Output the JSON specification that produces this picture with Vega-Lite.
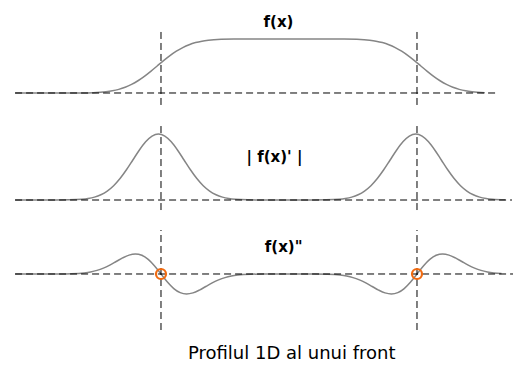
{
  "$schema": "https://vega.github.io/schema/vega-lite/v6.json",
  "padding": 0,
  "spacing": 0,
  "background": "white",
  "config": {
    "view": {"stroke": null},
    "line": {"color": "#858585", "strokeWidth": 1.5, "interpolate": "monotone"},
    "rule": {"color": "#000000", "strokeWidth": 1, "strokeDash": [7, 4]},
    "text": {"font": "DejaVu Sans", "fontWeight": "bold", "fontSize": 15, "color": "#000000", "align": "center", "baseline": "middle"}
  },
  "title": {
    "text": "Profilul 1D al unui front",
    "orient": "bottom",
    "anchor": "middle",
    "dx": 35,
    "offset": 11,
    "font": "DejaVu Sans",
    "fontSize": 18,
    "fontWeight": "normal",
    "color": "#000000"
  },
  "vconcat": [
    {
      "width": 513,
      "height": 110,
      "layer": [
        {
          "data": {"values": [
            {"x": -5.7, "v": 0}, {"x": -4.15, "v": 0}, {"x": -3.15, "v": 0.0013}, {"x": -2.65, "v": 0.0062},
            {"x": -2.15, "v": 0.0228}, {"x": -1.9, "v": 0.0401}, {"x": -1.65, "v": 0.0668}, {"x": -1.4, "v": 0.1056},
            {"x": -1.15, "v": 0.1587}, {"x": -0.9, "v": 0.2266}, {"x": -0.65, "v": 0.3085}, {"x": -0.4, "v": 0.4013},
            {"x": -0.15, "v": 0.5}, {"x": 0.1, "v": 0.5987}, {"x": 0.35, "v": 0.6915}, {"x": 0.6, "v": 0.7734},
            {"x": 0.85, "v": 0.8413}, {"x": 1.1, "v": 0.8944}, {"x": 1.35, "v": 0.9332}, {"x": 1.6, "v": 0.9599},
            {"x": 1.85, "v": 0.9772}, {"x": 2.35, "v": 0.9938}, {"x": 2.85, "v": 0.9987}, {"x": 4, "v": 1},
            {"x": 5, "v": 1}, {"x": 6, "v": 1}, {"x": 7.15, "v": 0.9987}, {"x": 7.65, "v": 0.9938},
            {"x": 8.15, "v": 0.9772}, {"x": 8.4, "v": 0.9599}, {"x": 8.65, "v": 0.9332}, {"x": 8.9, "v": 0.8944},
            {"x": 9.15, "v": 0.8413}, {"x": 9.4, "v": 0.7734}, {"x": 9.65, "v": 0.6915}, {"x": 9.9, "v": 0.5987},
            {"x": 10.15, "v": 0.5}, {"x": 10.4, "v": 0.4013}, {"x": 10.65, "v": 0.3085}, {"x": 10.9, "v": 0.2266},
            {"x": 11.15, "v": 0.1587}, {"x": 11.4, "v": 0.1056}, {"x": 11.65, "v": 0.0668}, {"x": 11.9, "v": 0.0401},
            {"x": 12.15, "v": 0.0228}, {"x": 12.65, "v": 0.0062}
          ]},
          "mark": "line",
          "encoding": {
            "x": {"field": "x", "type": "quantitative", "axis": null, "scale": {"domain": [-6.289, 13.75], "nice": false, "zero": false}},
            "y": {"field": "v", "type": "quantitative", "axis": null, "scale": {"domain": [-0.315, 1.722], "nice": false, "zero": false}}
          }
        },
        {
          "data": {"values": [{"from": -5.7, "to": 13.05, "level": 0}]},
          "mark": "rule",
          "encoding": {
            "x": {"field": "from", "type": "quantitative"},
            "x2": {"field": "to"},
            "y": {"field": "level", "type": "quantitative"}
          }
        },
        {
          "data": {"values": [{"edge": 0, "lo": -0.222, "hi": 1.167}, {"edge": 10, "lo": -0.222, "hi": 1.167}]},
          "mark": "rule",
          "encoding": {
            "x": {"field": "edge", "type": "quantitative"},
            "y": {"field": "lo", "type": "quantitative"},
            "y2": {"field": "hi"}
          }
        },
        {
          "data": {"values": [{"label": "f(x)", "lx": 4.59, "ly": 1.315}]},
          "mark": "text",
          "encoding": {
            "x": {"field": "lx", "type": "quantitative"},
            "y": {"field": "ly", "type": "quantitative"},
            "text": {"field": "label"}
          }
        }
      ]
    },
    {
      "width": 513,
      "height": 110,
      "layer": [
        {
          "data": {"values": [
            {"x": -5.7, "v": 0}, {"x": -4.1, "v": 0.0003}, {"x": -3.6, "v": 0.0022}, {"x": -3.1, "v": 0.0111},
            {"x": -2.85, "v": 0.0228}, {"x": -2.6, "v": 0.0439}, {"x": -2.35, "v": 0.0796}, {"x": -2.1, "v": 0.1353},
            {"x": -1.85, "v": 0.2163}, {"x": -1.6, "v": 0.3247}, {"x": -1.35, "v": 0.4578}, {"x": -1.1, "v": 0.6065},
            {"x": -0.85, "v": 0.7548}, {"x": -0.6, "v": 0.8825}, {"x": -0.35, "v": 0.9692}, {"x": -0.1, "v": 1},
            {"x": 0.15, "v": 0.9692}, {"x": 0.4, "v": 0.8825}, {"x": 0.65, "v": 0.7548}, {"x": 0.9, "v": 0.6065},
            {"x": 1.15, "v": 0.4578}, {"x": 1.4, "v": 0.3247}, {"x": 1.65, "v": 0.2163}, {"x": 1.9, "v": 0.1353},
            {"x": 2.15, "v": 0.0796}, {"x": 2.4, "v": 0.0439}, {"x": 2.65, "v": 0.0228}, {"x": 2.9, "v": 0.0111},
            {"x": 3.4, "v": 0.0022}, {"x": 3.9, "v": 0.0003}, {"x": 5, "v": 0}, {"x": 5.95, "v": 0.0003},
            {"x": 6.45, "v": 0.0022}, {"x": 6.95, "v": 0.0111}, {"x": 7.2, "v": 0.0228}, {"x": 7.45, "v": 0.0439},
            {"x": 7.7, "v": 0.0796}, {"x": 7.95, "v": 0.1353}, {"x": 8.2, "v": 0.2163}, {"x": 8.45, "v": 0.3247},
            {"x": 8.7, "v": 0.4578}, {"x": 8.95, "v": 0.6065}, {"x": 9.2, "v": 0.7548}, {"x": 9.45, "v": 0.8825},
            {"x": 9.7, "v": 0.9692}, {"x": 9.95, "v": 1}, {"x": 10.2, "v": 0.9692}, {"x": 10.45, "v": 0.8825},
            {"x": 10.7, "v": 0.7548}, {"x": 10.95, "v": 0.6065}, {"x": 11.2, "v": 0.4578}, {"x": 11.45, "v": 0.3247},
            {"x": 11.7, "v": 0.2163}, {"x": 11.95, "v": 0.1353}, {"x": 12.2, "v": 0.0796}, {"x": 12.45, "v": 0.0439},
            {"x": 12.7, "v": 0.0228}, {"x": 12.95, "v": 0.0111}, {"x": 13.45, "v": 0.0022}
          ]},
          "mark": "line",
          "encoding": {
            "x": {"field": "x", "type": "quantitative", "axis": null, "scale": {"domain": [-6.289, 13.75], "nice": false, "zero": false}},
            "y": {"field": "v", "type": "quantitative", "axis": null, "scale": {"domain": [-0.303, 1.364], "nice": false, "zero": false}}
          }
        },
        {
          "data": {"values": [{"from": -5.7, "to": 13.71, "level": 0}]},
          "mark": "rule",
          "encoding": {
            "x": {"field": "from", "type": "quantitative"},
            "x2": {"field": "to"},
            "y": {"field": "level", "type": "quantitative"}
          }
        },
        {
          "data": {"values": [{"edge": 0, "lo": -0.152, "hi": 1.167}, {"edge": 10, "lo": -0.152, "hi": 1.167}]},
          "mark": "rule",
          "encoding": {
            "x": {"field": "edge", "type": "quantitative"},
            "y": {"field": "lo", "type": "quantitative"},
            "y2": {"field": "hi"}
          }
        },
        {
          "data": {"values": [{"label": "| f(x)' |", "lx": 4.43, "ly": 0.652}]},
          "mark": "text",
          "encoding": {
            "x": {"field": "lx", "type": "quantitative"},
            "y": {"field": "ly", "type": "quantitative"},
            "text": {"field": "label"}
          }
        }
      ]
    },
    {
      "width": 513,
      "height": 114,
      "layer": [
        {
          "data": {"values": [
            {"x": -5.7, "v": 0}, {"x": -4, "v": 0.0013}, {"x": -3.5, "v": 0.0077}, {"x": -3, "v": 0.0333},
            {"x": -2.75, "v": 0.0627}, {"x": -2.5, "v": 0.1098}, {"x": -2.25, "v": 0.1791}, {"x": -2, "v": 0.2707},
            {"x": -1.75, "v": 0.3785}, {"x": -1.5, "v": 0.487}, {"x": -1.25, "v": 0.5723}, {"x": -1, "v": 0.6065},
            {"x": -0.75, "v": 0.5661}, {"x": -0.5, "v": 0.4412}, {"x": -0.25, "v": 0.2423}, {"x": 0, "v": 0},
            {"x": 0.25, "v": -0.2423}, {"x": 0.5, "v": -0.4412}, {"x": 0.75, "v": -0.5661}, {"x": 1, "v": -0.6065},
            {"x": 1.25, "v": -0.5723}, {"x": 1.5, "v": -0.487}, {"x": 1.75, "v": -0.3785}, {"x": 2, "v": -0.2707},
            {"x": 2.25, "v": -0.1791}, {"x": 2.5, "v": -0.1098}, {"x": 2.75, "v": -0.0627}, {"x": 3, "v": -0.0333},
            {"x": 3.5, "v": -0.0077}, {"x": 4, "v": -0.0013}, {"x": 5, "v": 0}, {"x": 6, "v": -0.0013},
            {"x": 6.5, "v": -0.0077}, {"x": 7, "v": -0.0333}, {"x": 7.25, "v": -0.0627}, {"x": 7.5, "v": -0.1098},
            {"x": 7.75, "v": -0.1791}, {"x": 8, "v": -0.2707}, {"x": 8.25, "v": -0.3785}, {"x": 8.5, "v": -0.487},
            {"x": 8.75, "v": -0.5723}, {"x": 9, "v": -0.6065}, {"x": 9.25, "v": -0.5661}, {"x": 9.5, "v": -0.4412},
            {"x": 9.75, "v": -0.2423}, {"x": 10, "v": 0}, {"x": 10.25, "v": 0.2423}, {"x": 10.5, "v": 0.4412},
            {"x": 10.75, "v": 0.5661}, {"x": 11, "v": 0.6065}, {"x": 11.25, "v": 0.5723}, {"x": 11.5, "v": 0.487},
            {"x": 11.75, "v": 0.3785}, {"x": 12, "v": 0.2707}, {"x": 12.25, "v": 0.1791}, {"x": 12.5, "v": 0.1098},
            {"x": 12.75, "v": 0.0627}, {"x": 13, "v": 0.0333}, {"x": 13.3, "v": 0.015}
          ]},
          "mark": "line",
          "encoding": {
            "x": {"field": "x", "type": "quantitative", "axis": null, "scale": {"domain": [-6.289, 13.75], "nice": false, "zero": false}},
            "y": {"field": "v", "type": "quantitative", "axis": null, "scale": {"domain": [-1.818, 1.636], "nice": false, "zero": false}}
          }
        },
        {
          "data": {"values": [{"from": -5.7, "to": 13.75, "level": 0}]},
          "mark": "rule",
          "encoding": {
            "x": {"field": "from", "type": "quantitative"},
            "x2": {"field": "to"},
            "y": {"field": "level", "type": "quantitative"}
          }
        },
        {
          "data": {"values": [{"edge": 0, "lo": -1.697, "hi": 1.333}, {"edge": 10, "lo": -1.697, "hi": 1.333}]},
          "mark": "rule",
          "encoding": {
            "x": {"field": "edge", "type": "quantitative"},
            "y": {"field": "lo", "type": "quantitative"},
            "y2": {"field": "hi"}
          }
        },
        {
          "data": {"values": [{"zx": 0, "zy": 0}, {"zx": 10, "zy": 0}]},
          "mark": {"type": "point", "filled": false, "color": "#f06a10", "strokeWidth": 2.2, "size": 100, "opacity": 1},
          "encoding": {
            "x": {"field": "zx", "type": "quantitative"},
            "y": {"field": "zy", "type": "quantitative"}
          }
        },
        {
          "data": {"values": [{"label": "f(x)\"", "lx": 4.79, "ly": 0.803}]},
          "mark": "text",
          "encoding": {
            "x": {"field": "lx", "type": "quantitative"},
            "y": {"field": "ly", "type": "quantitative"},
            "text": {"field": "label"}
          }
        }
      ]
    }
  ]
}
